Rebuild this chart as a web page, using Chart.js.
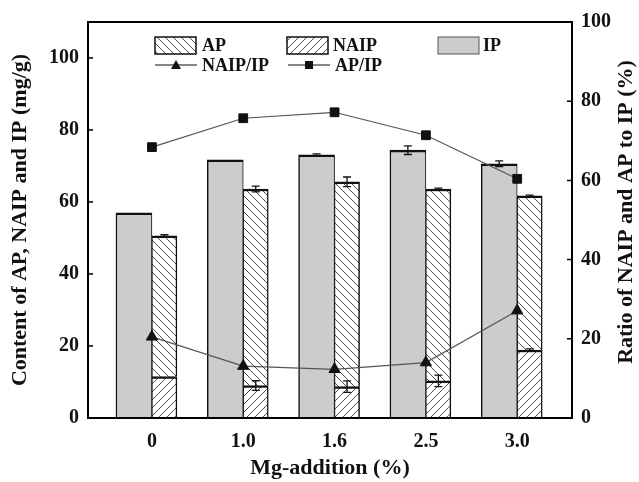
<!DOCTYPE html>
<html><head><meta charset="utf-8">
<script src="https://cdn.jsdelivr.net/npm/chart.js@4/dist/chart.umd.min.js"></script>
<style>html,body{margin:0;padding:0;background:#fff;}canvas{display:block;}</style>
</head><body>
<canvas id="c" width="639" height="482"></canvas>
<script>
// ---- data ----
const categories = ['0', '1.0', '1.6', '2.5', '3.0'];
const xPos = [0, 1, 2, 3, 4];
const ipValues = [57.0, 71.7, 73.1, 74.4, 70.6];
const ipErrors = [0, 0, 0.25, 1.2, 0.8];
const naipValues = [11.5, 9.0, 8.7, 10.3, 18.9];
const naipErrors = [0, 1.35, 1.6, 1.6, 0.3];
const apValues = [39.1, 54.6, 56.9, 53.3, 42.8];
const apErrors = [0.3, 0.8, 1.35, 0.25, 0.2];
const naipRatio = [20.5, 13.1, 12.3, 14.0, 27.1];
const apRatio = [68.4, 75.7, 77.2, 71.4, 60.4];
const leftTicks = [0, 20, 40, 60, 80, 100];
const rightTicks = [0, 20, 40, 60, 80, 100];

const FONT = '"Liberation Serif", "Times New Roman", serif';
const canvas = document.getElementById('c');
const ctx0 = canvas.getContext('2d');

function hatch(dir) {
  const s = 8;
  const c = document.createElement('canvas');
  c.width = s; c.height = s;
  const g = c.getContext('2d');
  g.fillStyle = '#fff'; g.fillRect(0, 0, s, s);
  g.strokeStyle = '#3a3a3a'; g.lineWidth = 0.9;
  g.beginPath();
  if (dir === 'back') {
    g.moveTo(-1, -1); g.lineTo(s + 1, s + 1);
    g.moveTo(-1, s - 1); g.lineTo(1, s + 1);
    g.moveTo(s - 1, -1); g.lineTo(s + 1, 1);
  } else {
    g.moveTo(-1, s + 1); g.lineTo(s + 1, -1);
    g.moveTo(-1, 1); g.lineTo(1, -1);
    g.moveTo(s - 1, s + 1); g.lineTo(s + 1, s - 1);
  }
  g.stroke();
  return ctx0.createPattern(c, 'repeat');
}
const apPattern = hatch('back');
const naipPattern = hatch('fwd');
const IP_COLOR = '#cccccc';

const pts = (arr) => arr.map((v, i) => ({x: xPos[i], y: v}));

const errMap = {0: ipErrors, 1: naipErrors, 2: apErrors};

const errorBars = {
  id: 'errorBars',
  afterDatasetDraw(chart, args) {
    const errs = errMap[args.index];
    if (!errs) return;
    const meta = args.meta;
    const y = chart.scales.y;
    const c = chart.ctx;
    c.save();
    c.strokeStyle = '#111'; c.lineWidth = 1.3;
    meta.data.forEach((bar, i) => {
      const e = errs[i];
      if (!e) return;
      let top = ipValues[i];
      if (args.index === 1) top = naipValues[i];
      if (args.index === 2) top = naipValues[i] + apValues[i];
      const x = bar.x;
      const y1 = y.getPixelForValue(top + e), y2 = y.getPixelForValue(top - e);
      c.beginPath();
      c.moveTo(x, y1); c.lineTo(x, y2);
      c.moveTo(x - 4, y1); c.lineTo(x + 4, y1);
      c.moveTo(x - 4, y2); c.lineTo(x + 4, y2);
      c.stroke();
    });
    c.restore();
  }
};

const frame = {
  id: 'frame',
  afterDatasetsDraw(chart) {
    const {ctx: c, chartArea: a} = chart;
    const y = chart.scales.y, y2 = chart.scales.y2;
    c.save();
    c.strokeStyle = '#000'; c.lineWidth = 2;
    c.strokeRect(a.left, a.top, a.right - a.left, a.bottom - a.top);
    c.lineWidth = 1.5;
    c.beginPath();
    leftTicks.forEach(t => { const p = y.getPixelForValue(t); c.moveTo(a.left, p); c.lineTo(a.left + 5, p); });
    rightTicks.forEach(t => { const p = y2.getPixelForValue(t); c.moveTo(a.right, p); c.lineTo(a.right - 5, p); });
    c.stroke();
    c.restore();
  }
};

const legendAndTitle = {
  id: 'legendAndTitle',
  afterDraw(chart) {
    const c = chart.ctx;
    c.save();
    c.font = 'bold 18px ' + FONT;
    c.fillStyle = '#111';
    c.textBaseline = 'middle';
    c.textAlign = 'left';
    const boxes = [
      {x: 155, fill: apPattern, stroke: '#111', lw: 1.5, label: 'AP', tx: 202},
      {x: 287, fill: naipPattern, stroke: '#111', lw: 1.5, label: 'NAIP', tx: 333},
      {x: 438, fill: IP_COLOR, stroke: '#555', lw: 1, label: 'IP', tx: 483}
    ];
    boxes.forEach(b => {
      c.fillStyle = b.fill;
      c.fillRect(b.x, 37, 41, 17);
      c.strokeStyle = b.stroke; c.lineWidth = b.lw;
      c.strokeRect(b.x, 37, 41, 17);
      c.fillStyle = '#111';
      c.fillText(b.label, b.tx, 46);
    });
    // line legend
    c.strokeStyle = '#111'; c.lineWidth = 1.2;
    c.beginPath(); c.moveTo(155, 65); c.lineTo(197, 65); c.moveTo(288, 65); c.lineTo(330, 65); c.stroke();
    c.fillStyle = '#111';
    c.beginPath(); c.moveTo(176, 60); c.lineTo(181, 69); c.lineTo(171, 69); c.closePath(); c.fill();
    c.fillRect(305, 61, 8, 8);
    c.fillText('NAIP/IP', 202, 66);
    c.fillText('AP/IP', 335, 66);
    // right axis title
    c.font = 'bold 22px ' + FONT;
    c.textAlign = 'center';
    c.translate(626, 212);
    c.rotate(-Math.PI / 2);
    c.fillText('Ratio of NAIP and AP to IP (%)', 0, 0);
    c.restore();
  }
};

new Chart(canvas, {
  type: 'bar',
  data: {
    datasets: [
      {label: 'IP', data: pts(ipValues), stack: 'ip', barThickness: 36, order: 1,
        backgroundColor: IP_COLOR, borderColor: '#111',
        borderWidth: {top: 2.5, left: 1.5, right: 1, bottom: 0}, borderSkipped: 'start'},
      {label: 'NAIP', data: pts(naipValues), stack: 'pa', barThickness: 25, order: 1,
        backgroundColor: naipPattern, borderColor: '#111',
        borderWidth: {top: 2.5, left: 1, right: 1.5, bottom: 0}, borderSkipped: 'start'},
      {label: 'AP', data: pts(apValues), stack: 'pa', barThickness: 25, order: 1,
        backgroundColor: apPattern, borderColor: '#111',
        borderWidth: {top: 2.5, left: 1, right: 1.5, bottom: 0}, borderSkipped: 'start'},
      {type: 'line', label: 'NAIP/IP', data: pts(naipRatio), yAxisID: 'y2', order: 0,
        borderColor: '#555', borderWidth: 1.2, pointStyle: 'triangle', pointRadius: 6.5,
        pointBackgroundColor: '#111', pointBorderColor: '#111', pointBorderWidth: 1, tension: 0},
      {type: 'line', label: 'AP/IP', data: pts(apRatio), yAxisID: 'y2', order: 0,
        borderColor: '#555', borderWidth: 1.2, pointStyle: 'rect', pointRadius: 6.2,
        pointBackgroundColor: '#111', pointBorderColor: '#111', pointBorderWidth: 1, tension: 0}
    ]
  },
  options: {
    responsive: false,
    animation: false,
    devicePixelRatio: 1,
    layout: {padding: {top: 22, left: 0, right: 0, bottom: 0}},
    plugins: {legend: {display: false}, tooltip: {enabled: false}},
    scales: {
      x: {
        type: 'linear', offset: false, min: -0.7, max: 4.6,
        grid: {display: false, drawTicks: false}, border: {display: false},
        afterBuildTicks: (s) => { s.ticks = xPos.map(v => ({value: v})); },
        afterFit: (s) => { s.height = 64; },
        ticks: {autoSkip: false, maxRotation: 0, padding: 12, color: '#111',
          font: {family: FONT, size: 20, weight: 'bold'},
          callback: (v) => categories[v]},
        title: {display: true, text: 'Mg-addition (%)', color: '#111', padding: {top: 0, bottom: 0},
          font: {family: FONT, size: 22, weight: 'bold'}}
      },
      y: {
        position: 'left', stacked: true, min: 0, max: 110,
        grid: {display: false, drawTicks: false}, border: {display: false},
        afterBuildTicks: (s) => { s.ticks = leftTicks.map(v => ({value: v})); },
        afterFit: (s) => { s.width = 88; },
        ticks: {padding: 9, color: '#111', font: {family: FONT, size: 20, weight: 'bold'}},
        title: {display: true, text: 'Content of AP, NAIP and IP (mg/g)', color: '#111',
          padding: {top: 7, bottom: 0}, font: {family: FONT, size: 22, weight: 'bold'}}
      },
      y2: {
        position: 'right', min: 0, max: 100,
        grid: {display: false, drawTicks: false}, border: {display: false},
        afterBuildTicks: (s) => { s.ticks = rightTicks.map(v => ({value: v})); },
        afterFit: (s) => { s.width = 67; },
        ticks: {padding: 9, color: '#111', font: {family: FONT, size: 20, weight: 'bold'}}
      }
    }
  },
  plugins: [errorBars, frame, legendAndTitle]
});
</script>
</body></html>
